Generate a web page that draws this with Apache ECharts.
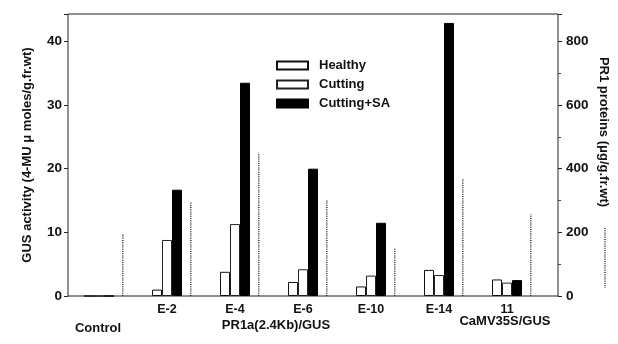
<!DOCTYPE html>
<html>
<head>
<meta charset="utf-8">
<script src="https://cdn.jsdelivr.net/npm/echarts@6/dist/echarts.min.js"></script>
<style>
  html, body { margin: 0; padding: 0; background: #fff; }
  #chart { width: 618px; height: 344px; }
</style>
</head>
<body>
<div id="chart"></div>
<script>
    // categories and values
    const categories = ["Control", "E-2", "E-4", "E-6", "E-10", "E-14", "11"];
    const healthy = [0, 1.0, 3.8, 2.2, 1.5, 4.1, 2.6];
    const cutting = [0, 8.8, 11.3, 4.2, 3.2, 3.3, 2.1];
    const cuttingSA = [0, 16.7, 33.5, 20.0, 11.5, 42.9, 2.5];
    // PR1 proteins, right axis (µg/g.fr.wt), drawn as dotted lines
    const pr1 = [195, 295, 450, 302, 151, 368, 258];
    const leftTicks = [0, 10, 20, 30, 40];
    const rightTicks = [0, 200, 400, 600, 800];

    const font = "Liberation Sans";
    const chart = echarts.init(document.getElementById("chart"));

    const option = {
        animation: false,
        textStyle: { fontFamily: font, fontWeight: "bold", color: "#111" },
        legend: {
            data: ["Healthy", "Cutting", "Cutting+SA"],
            orient: "vertical",
            left: 271,
            top: 54,
            icon: "rect",
            itemWidth: 31,
            itemHeight: 8,
            itemGap: 6,
            textStyle: { fontFamily: font, fontWeight: "bold", fontSize: 13, color: "#111", padding: [0, 0, 0, 6] }
        },
        grid: [
            // data grid, bands sized to the group spacing
            { left: 65, width: 476, top: 14, bottom: 48 },
            // frame round the plot
            { left: 68, right: 60, top: 14, bottom: 48, show: true, borderColor: "#222", borderWidth: 1, backgroundColor: "transparent" }
        ],
        xAxis: [{
            type: "category",
            gridIndex: 0,
            data: categories,
            axisLine: { show: false },
            axisTick: { show: false },
            axisLabel: {
                margin: 7,
                fontSize: 12.5,
                fontWeight: "bold",
                fontFamily: font,
                color: "#111",
                formatter: function (v) { return v === "Control" ? "" : v; }
            }
        }],
        yAxis: [
            {
                type: "value",
                gridIndex: 0,
                offset: -3,
                min: 0,
                max: 44.3,
                interval: 10,
                splitLine: { show: false },
                axisLine: { show: false },
                axisTick: { show: true, length: 4, lineStyle: { color: "#222" } },
                axisLabel: {
                    margin: 6, fontSize: 13.5, fontWeight: "bold", fontFamily: font, color: "#111",
                    formatter: function (v) { return leftTicks.indexOf(v) >= 0 ? String(v) : ""; }
                },
                name: "GUS activity (4-MU \u03bc moles/g.fr.wt)",
                nameLocation: "middle",
                nameGap: 34,
                nameTextStyle: { fontSize: 13, fontWeight: "bold", fontFamily: font, color: "#111" }
            },
            {
                type: "value",
                gridIndex: 0,
                position: "right",
                offset: 17,
                min: 0,
                max: 886,
                interval: 200,
                splitLine: { show: false },
                axisLine: { show: false },
                axisTick: { show: true, length: 4, lineStyle: { color: "#222" } },
                minorTick: { show: true, splitNumber: 2, length: 3, lineStyle: { color: "#444" } },
                axisLabel: {
                    margin: 8, fontSize: 13.5, fontWeight: "bold", fontFamily: font, color: "#111",
                    formatter: function (v) { return rightTicks.indexOf(v) >= 0 ? String(v) : ""; }
                }
            }
        ],
        graphic: [
            {
                type: "text", x: 604, y: 132, rotation: -Math.PI / 2,
                style: { text: "PR1 proteins (\u03bcg/g.fr.wt)", font: "bold 13px " + font, fill: "#111", align: "center", verticalAlign: "middle" }
            },
            {
                type: "line", shape: { x1: 605, y1: 228, x2: 605, y2: 288 },
                style: { stroke: "#333", lineWidth: 1.5, lineDash: [1, 1.2] }
            },
            { type: "text", x: 98, y: 328, style: { text: "Control", font: "bold 13px " + font, fill: "#111", align: "center", verticalAlign: "middle" } },
            { type: "text", x: 276, y: 325, style: { text: "PR1a(2.4Kb)/GUS", font: "bold 13px " + font, fill: "#111", align: "center", verticalAlign: "middle" } },
            { type: "text", x: 505, y: 321, style: { text: "CaMV35S/GUS", font: "bold 13px " + font, fill: "#111", align: "center", verticalAlign: "middle" } }
        ],
        series: [
            {
                name: "Healthy", type: "bar", barWidth: 10, barGap: "0%",
                itemStyle: { color: "#fff", borderColor: "#111", borderWidth: 1 },
                data: healthy
            },
            {
                name: "Cutting", type: "bar", barWidth: 10, barGap: "0%",
                itemStyle: { color: "#fff", borderColor: "#222", borderWidth: 1 },
                data: cutting
            },
            {
                name: "Cutting+SA", type: "bar", barWidth: 10, barGap: "0%",
                itemStyle: { color: "#000", borderColor: "#000", borderWidth: 1 },
                data: cuttingSA
            },
            {
                name: "PR1 proteins", type: "custom", yAxisIndex: 1,
                encode: { x: 0, y: 1 },
                data: pr1.map(function (v, i) { return [i, v]; }),
                renderItem: function (params, api) {
                    const top = api.coord([api.value(0), api.value(1)]);
                    const base = api.coord([api.value(0), 0]);
                    const off = api.size([1, 0])[0] * 0.35;
                    return {
                        type: "line",
                        shape: { x1: top[0] + off, y1: base[1], x2: top[0] + off, y2: top[1] },
                        style: { stroke: "#333", lineWidth: 1.5, lineDash: [1, 1.2] }
                    };
                }
            }
        ]
    };
    chart.setOption(option);
</script>
</body>
</html>
